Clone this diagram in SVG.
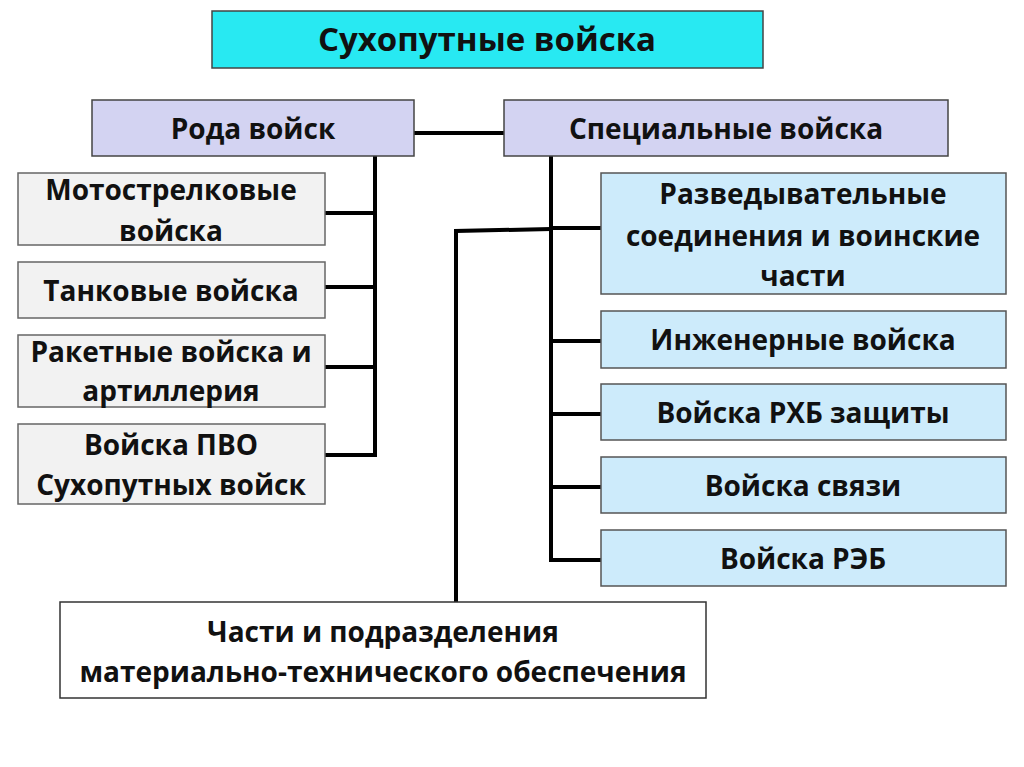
<svg xmlns="http://www.w3.org/2000/svg" width="1024" height="767" viewBox="0 0 1024 767">
<style>
text{font-family:"Open Sans","Liberation Sans",sans-serif;font-weight:bold;fill:#111;text-anchor:middle;font-size:28px}
.t{font-size:33px}
.box{stroke:#444;stroke-width:1.5}
.top{fill:#28E9F2}
.lav{fill:#D3D3F2}
.gray{fill:#F2F2F2;stroke:#666}
.blue{fill:#CDEBFB;stroke:#555}
.white{fill:#fff;stroke:#333}
.c{stroke:#000;stroke-width:4;fill:none}
</style>
<rect width="1024" height="767" fill="#fff"/>
<g id="connectors">
<line class="c" x1="414" y1="133" x2="504" y2="133"/>
<polyline class="c" points="375,156 375,457"/>
<line class="c" x1="325" y1="213" x2="375" y2="213"/>
<line class="c" x1="325" y1="287" x2="375" y2="287"/>
<line class="c" x1="325" y1="367" x2="375" y2="367"/>
<line class="c" x1="325" y1="455" x2="375" y2="455"/>
<polyline class="c" points="551,156 551,562"/>
<line class="c" x1="551" y1="228" x2="601" y2="228"/>
<line class="c" x1="551" y1="341" x2="601" y2="341"/>
<line class="c" x1="551" y1="414" x2="601" y2="414"/>
<line class="c" x1="551" y1="487" x2="601" y2="487"/>
<line class="c" x1="551" y1="560" x2="601" y2="560"/>
<polyline class="c" points="551,229 456,231 456,602"/>
</g>
<g id="n-root"><rect class="box top" x="212" y="11" width="551" height="57"/><text class="t" x="487" y="51">Сухопутные войска</text></g>
<g id="n-roda"><rect class="box lav" x="92" y="100" width="322" height="56"/><text x="253" y="139">Рода войск</text></g>
<g id="n-spec"><rect class="box lav" x="504" y="100" width="444" height="56"/><text x="726" y="139">Специальные войска</text></g>
<g id="n-moto"><rect class="box gray" x="18" y="173" width="307" height="72"/><text x="171" y="200">Мотострелковые</text><text x="171" y="241">войска</text></g>
<g id="n-tank"><rect class="box gray" x="18" y="262" width="307" height="56"/><text x="171" y="301">Танковые войска</text></g>
<g id="n-rak"><rect class="box gray" x="18" y="335" width="307" height="72"/><text x="171" y="362">Ракетные войска и</text><text x="171" y="401">артиллерия</text></g>
<g id="n-pvo"><rect class="box gray" x="18" y="424" width="307" height="80"/><text x="171" y="455">Войска ПВО</text><text x="171" y="495">Сухопутных войск</text></g>
<g id="n-razv"><rect class="box blue" x="601" y="173" width="405" height="121"/><text x="803" y="204">Разведывательные</text><text x="803" y="246">соединения и воинские</text><text x="803" y="286">части</text></g>
<g id="n-ing"><rect class="box blue" x="601" y="311" width="405" height="57"/><text x="803" y="350">Инженерные войска</text></g>
<g id="n-rhb"><rect class="box blue" x="601" y="384" width="405" height="56"/><text x="803" y="423">Войска РХБ защиты</text></g>
<g id="n-svyaz"><rect class="box blue" x="601" y="457" width="405" height="56"/><text x="803" y="496">Войска связи</text></g>
<g id="n-reb"><rect class="box blue" x="601" y="530" width="405" height="56"/><text x="803" y="569">Войска РЭБ</text></g>
<g id="n-mto"><rect class="box white" x="60" y="602" width="646" height="96"/><text x="383" y="642">Части и подразделения</text><text x="383" y="682">материально-технического обеспечения</text></g>
</svg>
